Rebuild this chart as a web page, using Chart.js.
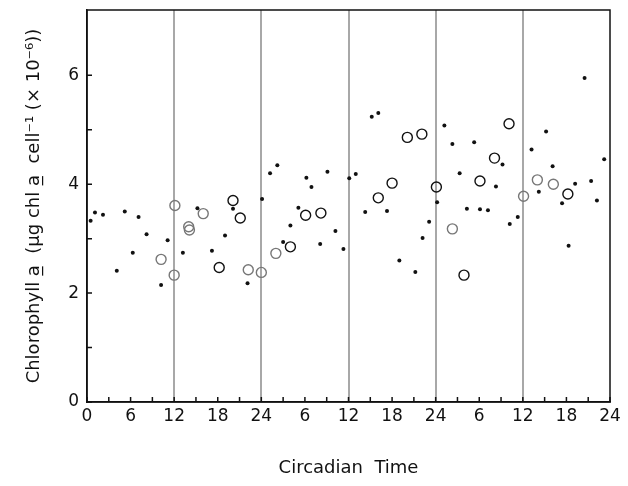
<!DOCTYPE html>
<html>
<head>
<meta charset="utf-8">
<script src="https://cdn.jsdelivr.net/npm/chart.js@4"></script>
<style>
  html, body { margin: 0; padding: 0; background: #fff; }
  #wrap { width: 628px; height: 486px; }
</style>
</head>
<body>
<div id="wrap"><canvas id="grafica" width="628" height="486"></canvas></div>
<script>
// puntos llenos (hora circadiana acumulada, clorofila)
const dotX = [0.5, 1.1, 2.2, 4.1, 5.2, 6.3, 7.1, 8.2, 10.2, 11.1, 13.2, 15.2, 17.2, 19.0, 20.1, 22.1, 24.1, 25.2, 26.2, 27.0,
  28.0, 29.1, 30.2, 30.9, 32.1, 33.1, 34.2, 35.3, 36.1, 37.0, 38.3, 39.2, 40.1, 41.3, 43.0, 45.2, 46.2, 47.1, 48.2, 49.2,
  50.3, 51.3, 52.3, 53.3, 54.1, 55.2, 56.3, 57.2, 58.2, 59.3, 61.2, 62.2, 63.2, 64.1, 65.4, 66.3, 67.2, 68.5, 69.4, 70.2, 71.2];
const dotY = [3.33, 3.48, 3.44, 2.41, 3.50, 2.74, 3.40, 3.08, 2.15, 2.97, 2.74, 3.56, 2.78, 3.06, 3.55, 2.18, 3.73, 4.20, 4.35, 2.94,
  3.24, 3.57, 4.12, 3.95, 2.90, 4.23, 3.14, 2.81, 4.11, 4.19, 3.49, 5.24, 5.31, 3.51, 2.60, 2.39, 3.01, 3.31, 3.67, 5.08,
  4.74, 4.20, 3.55, 4.77, 3.54, 3.52, 3.96, 4.36, 3.27, 3.40, 4.64, 3.86, 4.97, 4.33, 3.65, 2.87, 4.01, 5.95, 4.06, 3.70, 4.46];

// circulos abiertos negros
const ringX = [18.2, 20.1, 21.1, 28.0, 30.1, 32.2, 40.1, 42.0, 44.1, 46.1, 48.1, 51.9, 54.1, 56.1, 58.1, 66.2];
const ringY = [2.47, 3.70, 3.38, 2.85, 3.43, 3.47, 3.75, 4.02, 4.86, 4.92, 3.95, 2.33, 4.06, 4.48, 5.11, 3.82];

// circulos abiertos grises (impresion mas clara)
const greyRingX = [10.2, 12.0, 12.1, 14.0, 14.1, 16.0, 22.2, 24.0, 26.0, 50.3, 60.1, 62.0, 64.2];
const greyRingY = [2.62, 2.33, 3.61, 3.22, 3.16, 3.46, 2.43, 2.38, 2.73, 3.18, 3.78, 4.08, 4.00];

const hourTicks = [0, 6, 12, 18, 24];
const valueTicks = [0, 2, 4, 6];
const nightLines = [12, 24, 36, 48, 60];

function puntos(xs, ys) {
  return xs.map((x, i) => ({ x: x, y: ys[i] }));
}

// marcas hacia adentro + marco completo
const marcoPlugin = {
  id: 'marco',
  afterDraw(chart) {
    const ctx = chart.ctx;
    const a = chart.chartArea;
    const xs = chart.scales.x;
    const ys = chart.scales.y;
    ctx.save();
    ctx.strokeStyle = '#111';
    ctx.lineWidth = 1.5;
    ctx.beginPath();
    xs.ticks.forEach(t => {
      if (t.value % 3 !== 0) return;
      const px = xs.getPixelForValue(t.value);
      ctx.moveTo(px, a.bottom);
      ctx.lineTo(px, a.bottom - 5);
    });
    ys.ticks.forEach(t => {
      if (!Number.isInteger(t.value)) return;
      const py = ys.getPixelForValue(t.value);
      ctx.moveTo(a.left, py);
      ctx.lineTo(a.left + 5, py);
    });
    ctx.stroke();
    ctx.strokeRect(a.left, a.top, a.right - a.left, a.bottom - a.top);
    ctx.restore();
  }
};

const graph = document.querySelector('#grafica');

new Chart(graph, {
  type: 'scatter',
  data: {
    datasets: [
      {
        label: 'grey',
        data: puntos(greyRingX, greyRingY),
        pointRadius: 5,
        pointBorderWidth: 1.4,
        pointBorderColor: '#777',
        pointBackgroundColor: 'rgba(0,0,0,0)'
      },
      {
        label: 'ring',
        data: puntos(ringX, ringY),
        pointRadius: 5,
        pointBorderWidth: 1.4,
        pointBorderColor: '#111',
        pointBackgroundColor: 'rgba(0,0,0,0)'
      },
      {
        label: 'dot',
        data: puntos(dotX, dotY),
        pointRadius: 2,
        pointBorderWidth: 0,
        pointBackgroundColor: '#111'
      }
    ]
  },
  options: {
    responsive: false,
    animation: false,
    layout: { padding: { top: 10, right: 18, left: 0, bottom: 0 } },
    plugins: { legend: { display: false }, tooltip: { enabled: false } },
    scales: {
      x: {
        type: 'linear',
        min: 0,
        max: 72,
        afterFit: s => { s.height = 84; },
        border: { display: true, color: '#111', width: 1.5 },
        grid: {
          drawTicks: false,
          lineWidth: 2,
          color: c => nightLines.includes(c.tick.value) ? '#a8a8a8' : 'rgba(0,0,0,0)'
        },
        ticks: {
          stepSize: 3,
          autoSkip: false,
          maxRotation: 0,
          padding: 4,
          color: '#111',
          font: { family: 'DejaVu Sans', size: 17 },
          callback: v => {
            const h = v % 24;
            if (v % 6 !== 0) return '';
            if (h === 0 && v > 0) return '24';
            return hourTicks.includes(h) ? String(h) : '';
          }
        },
        title: {
          display: true,
          text: 'Circadian  Time',
          color: '#111',
          font: { family: 'DejaVu Sans', size: 18 },
          padding: { top: 0, bottom: 7 }
        }
      },
      y: {
        min: 0,
        max: 7.2,
        afterFit: s => { s.width = 87; s.paddingTop = 0; s.paddingBottom = 0; },
        border: { display: true, color: '#111', width: 1.5 },
        grid: { display: false, drawTicks: false },
        ticks: {
          stepSize: 1,
          padding: 8,
          color: '#111',
          font: { family: 'DejaVu Sans', size: 17 },
          callback: v => valueTicks.includes(v) ? String(v) : ''
        },
        title: {
          display: true,
          text: 'Chlorophyll a\u0332  (\u03bcg chl a\u0332  cell\u207b\u00b9 (\u00d7 10\u207b\u2076))',
          color: '#111',
          font: { family: 'DejaVu Sans', size: 18 },
          padding: { top: 24, bottom: 0 }
        }
      }
    }
  },
  plugins: [marcoPlugin]
});
</script>
</body>
</html>
